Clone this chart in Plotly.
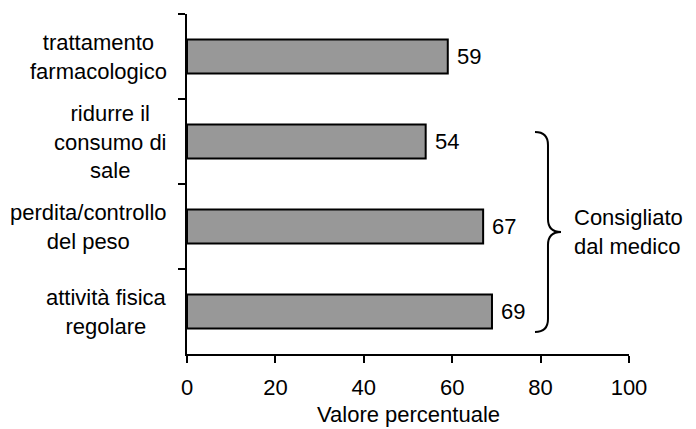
import plotly.graph_objects as go

categories = ["trattamento<br>farmacologico", "ridurre il<br>consumo di<br>sale",
              "perdita/controllo<br>del peso", "attività fisica<br>regolare"]
values = [59, 54, 67, 69]
x_ticks = [0, 20, 40, 60, 80, 100]
x_title = "Valore percentuale"
group_label = "Consigliato<br>dal medico"

W, H = 696, 429
ML, MR, MT, MB = 187, 67, 14, 75
PW, PH = W - ML - MR, H - MT - MB
FONT = "Liberation Sans, Arial, sans-serif"
FS = 22


def px(x):
    return (x - ML) / PW


def py(y):
    return (H - MB - y) / PH


fig = go.Figure()
fig.add_trace(go.Bar(
    x=values, y=categories, orientation="h", width=0.4,
    marker=dict(color="#989898", line=dict(color="black", width=2)),
    hoverinfo="skip",
))

annotations = []
for c, v in zip(categories, values):
    annotations.append(dict(x=v, y=c, xref="x", yref="y", text=str(v), showarrow=False,
                            xanchor="left", yanchor="middle", xshift=7,
                            font=dict(family=FONT, size=FS, color="black")))
    annotations.append(dict(x=0, y=c, xref="paper", yref="y", text=c, showarrow=False,
                            xanchor="right", yanchor="middle", xshift=-18, align="center",
                            font=dict(family=FONT, size=FS, color="black")))
annotations.append(dict(x=px(572), y=py(232), xref="paper", yref="paper", text=group_label,
                        showarrow=False, xanchor="left", yanchor="middle", align="left",
                        font=dict(family=FONT, size=FS, color="black")))
# axis title
annotations.append(dict(x=0.5, y=py(414), xref="paper", yref="paper", text=x_title,
                        showarrow=False, xanchor="center", yanchor="middle",
                        font=dict(family=FONT, size=FS, color="black")))

# brace (decoration) in paper coordinates
pts = [(535, 132), (548, 132), (548, 145), (548, 219), (548, 232), (561, 232),
       (548, 232), (548, 245), (548, 319), (548, 332), (535, 332)]
P = [f"{px(a):.4f},{py(b):.4f}" for a, b in pts]
path = (f"M {P[0]} Q {P[1]} {P[2]} L {P[3]} Q {P[4]} {P[5]} "
        f"Q {P[6]} {P[7]} L {P[8]} Q {P[9]} {P[10]}")

fig.update_layout(
    width=W, height=H,
    margin=dict(l=ML, r=MR, t=MT, b=MB, pad=0, autoexpand=False),
    paper_bgcolor="white", plot_bgcolor="white",
    showlegend=False,
    font=dict(family=FONT, size=FS, color="black"),
    annotations=annotations,
    shapes=[dict(type="path", path=path, xref="paper", yref="paper",
                 line=dict(color="black", width=2))],
    xaxis=dict(range=[0, 100], tickvals=x_ticks, ticktext=[str(t) for t in x_ticks],
               automargin=False,
               showgrid=False, zeroline=False, showline=True, linecolor="black", linewidth=2,
               ticks="outside", ticklen=7, tickwidth=2, tickcolor="black",
               ticklabelstandoff=6,
               tickfont=dict(family=FONT, size=FS, color="black")),
    yaxis=dict(type="category", categoryorder="array", categoryarray=categories,
               range=[3.5, -0.5], tickson="boundaries", showticklabels=False,
               automargin=False,
               showgrid=False, zeroline=False, showline=True, linecolor="black", linewidth=2,
               ticks="outside", ticklen=7, tickwidth=2, tickcolor="black"),
)

fig.write_html("out.html", config={"displayModeBar": False},
               post_script="document.body.style.margin='0';document.body.style.padding='0';")
